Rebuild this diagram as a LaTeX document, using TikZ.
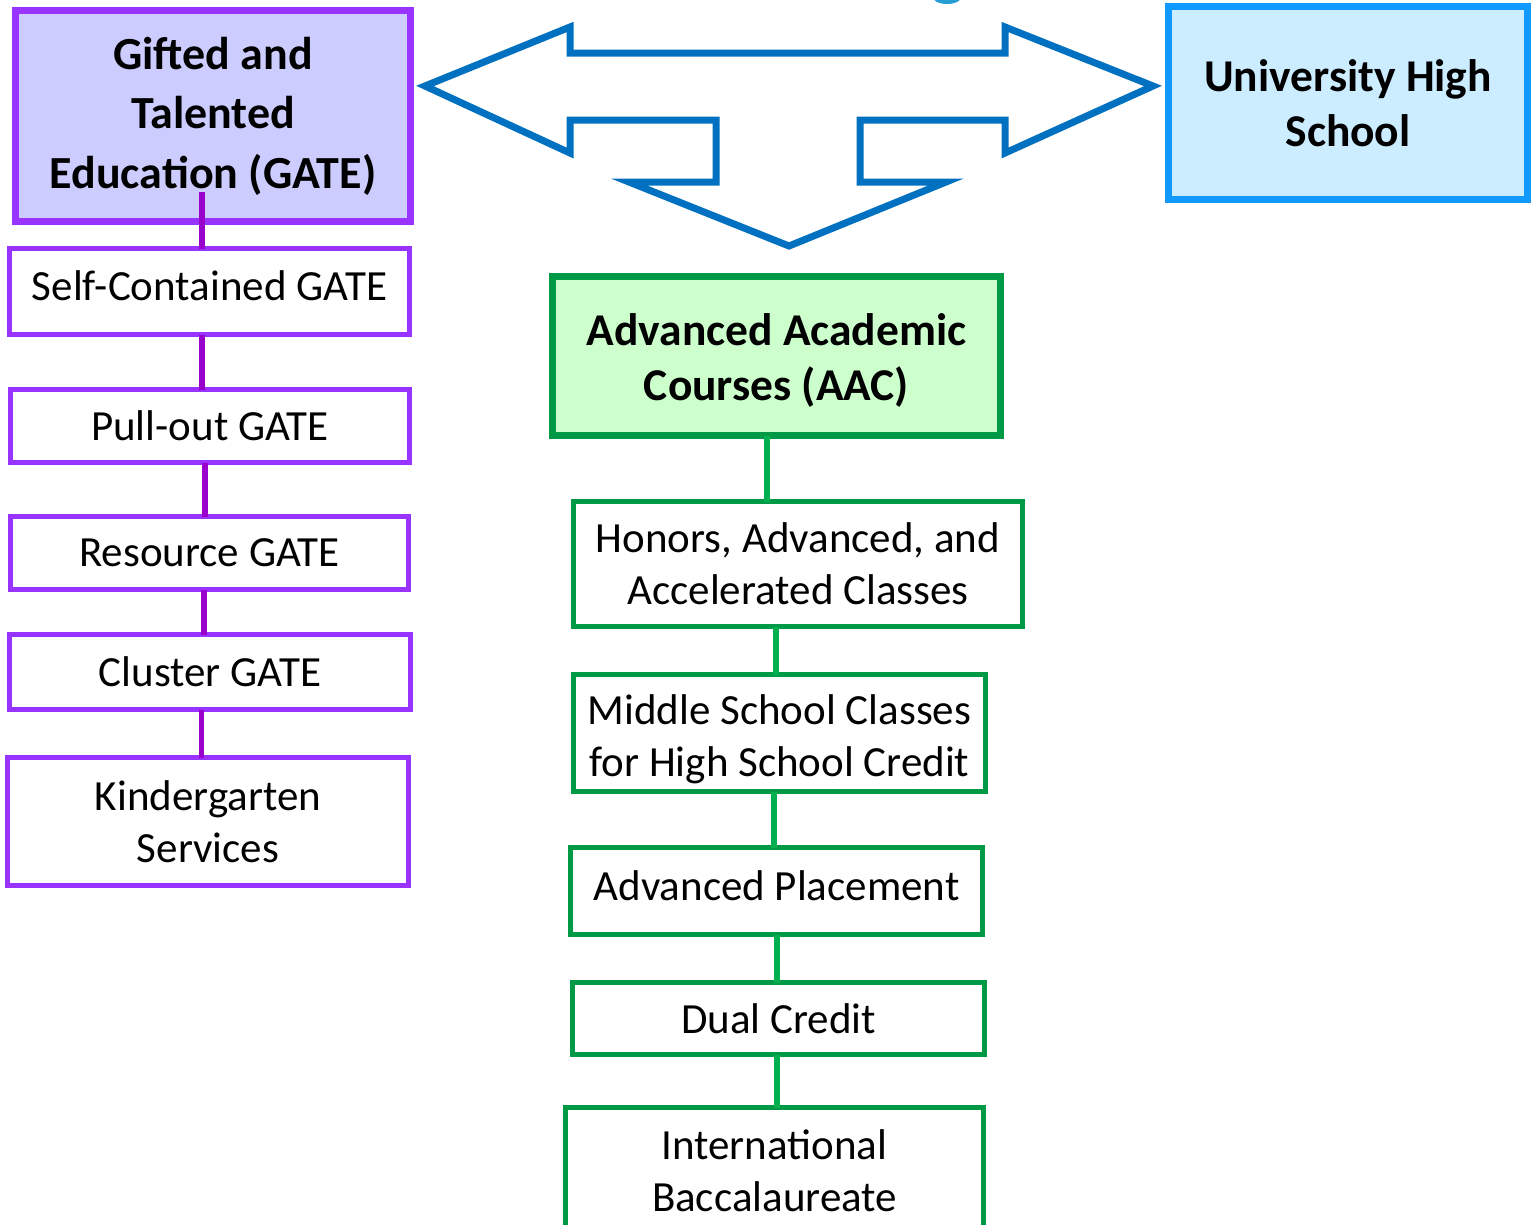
\documentclass[tikz,border=0pt]{standalone}
\usepackage{fontspec}
\setmainfont{Carlito}
\definecolor{pborder}{HTML}{9933FF}
\definecolor{pline}{HTML}{9900CC}
\definecolor{pfill}{HTML}{CCCCFF}
\definecolor{bborder}{HTML}{1199FF}
\definecolor{bfill}{HTML}{CCECFF}
\definecolor{gborder}{HTML}{009A46}
\definecolor{gline}{HTML}{00B050}
\definecolor{gfill}{HTML}{CCFFCC}
\definecolor{arrowblue}{HTML}{0070C0}
\newcommand{\shtxt}[2]{\raisebox{#1}[\height][\depth]{\begin{tabular}{@{}c@{}}#2\end{tabular}}}
\tikzset{
  box/.style={rectangle, inner sep=0pt, outer sep=0pt, align=center, text=black},
  pbox/.style={box, draw=pborder, line width=5pt, fill=white, font=\fontsize{43}{52}\selectfont},
  gbox/.style={box, draw=gborder, line width=5pt, fill=white, font=\fontsize{43}{52}\selectfont},
  pconn/.style={draw=pline, line width=5.5pt},
  gconn/.style={draw=gline, line width=6pt},
}
\begin{document}
\begin{tikzpicture}[x=1pt,y=-1pt]
\useasboundingbox (0,0) rectangle (1538,1224);
\begin{scope}
\clip (0,0) rectangle (1538,1224);
% blob at top edge
\fill[arrowblue!80!cyan, opacity=0.85] (947,-4) ellipse [x radius=15pt, y radius=8pt];

% left column
\node[box, draw=pborder, fill=pfill, line width=7pt, minimum width=395pt, minimum height=211pt,
  font=\bfseries\fontsize{46}{59.5}\selectfont] (gate) at (213,116) {Gifted and\\Talented\\Education (GATE)};
\node[pbox, minimum width=400pt, minimum height=86pt] (self) at (209.5,291.5) {\shtxt{1pt}{Self-Contained GATE}};
\node[pbox, minimum width=399pt, minimum height=73pt] (pull) at (210,426) {Pull-out GATE};
\node[pbox, minimum width=398pt, minimum height=73pt] (res) at (209.5,553) {Resource GATE};
\node[pbox, minimum width=401pt, minimum height=75pt] (clus) at (210,672) {Cluster GATE};
\node[pbox, minimum width=401pt, minimum height=128pt] (kind) at (208,821.5) {Kindergarten\\Services};

\coordinate (gtop) at (202,192);
\coordinate (xa) at (202,0);
\coordinate (xb) at (205,0);
\coordinate (xc) at (204,0);
\coordinate (xd) at (201.5,0);
\draw[pconn] (gtop) -- (self.north -| gtop);
\draw[pconn] (self.south -| xa) -- (pull.north -| xa);
\draw[pconn] (pull.south -| xb) -- (res.north -| xb);
\draw[pconn] (res.south -| xc) -- (clus.north -| xc);
\draw[pconn] (clus.south -| xd) -- (kind.north -| xd);

% right box
\node[box, draw=bborder, fill=bfill, line width=7pt, minimum width=359pt, minimum height=193pt,
  font=\bfseries\fontsize{45.5}{55}\selectfont] (uhs) at (1348,103) {University High\\School};

% centre column
\node[box, draw=gborder, fill=gfill, line width=7pt, minimum width=448pt, minimum height=159pt,
  font=\bfseries\fontsize{45.5}{55}\selectfont] (aac) at (776.5,356) {\shtxt{-6pt}{Advanced Academic\\Courses (AAC)}};
\node[gbox, minimum width=449pt, minimum height=125pt] (hon) at (798,564) {Honors, Advanced, and\\Accelerated Classes};
\node[gbox, minimum width=412pt, minimum height=117pt] (mid) at (779.5,733) {\shtxt{-7pt}{Middle School Classes\\for High School Credit}};
\node[gbox, minimum width=412pt, minimum height=87pt] (ap) at (776.5,891) {\shtxt{1pt}{Advanced Placement}};
\node[gbox, minimum width=412pt, minimum height=72pt] (dual) at (778.5,1018.5) {Dual Credit};
\node[gbox, minimum width=418pt, minimum height=127pt] (ib) at (774.5,1171) {International\\Baccalaureate};

\coordinate (ga) at (767,0);
\coordinate (gb) at (776,0);
\coordinate (gc) at (774,0);
\coordinate (gd) at (777,0);
\draw[gconn] (aac.south -| ga) -- (hon.north -| ga);
\draw[gconn] (hon.south -| gb) -- (mid.north -| gb);
\draw[gconn] (mid.south -| gc) -- (ap.north -| gc);
\draw[gconn] (ap.south -| gd) -- (dual.north -| gd);
\draw[gconn] (dual.south -| gd) -- (ib.north -| gd);

% three-way block arrow
\draw[arrowblue, line width=7pt, line join=miter]
  (425,86) -- (570,27) -- (570,53) -- (1005,53) -- (1005,27) -- (1153,86)
  -- (1005,153) -- (1005,120) -- (860,120) -- (860,182) -- (946,182)
  -- (789,246) -- (629,182) -- (716,182) -- (716,120) -- (570,120)
  -- (570,153) -- cycle;
\end{scope}
\end{tikzpicture}
\end{document}
